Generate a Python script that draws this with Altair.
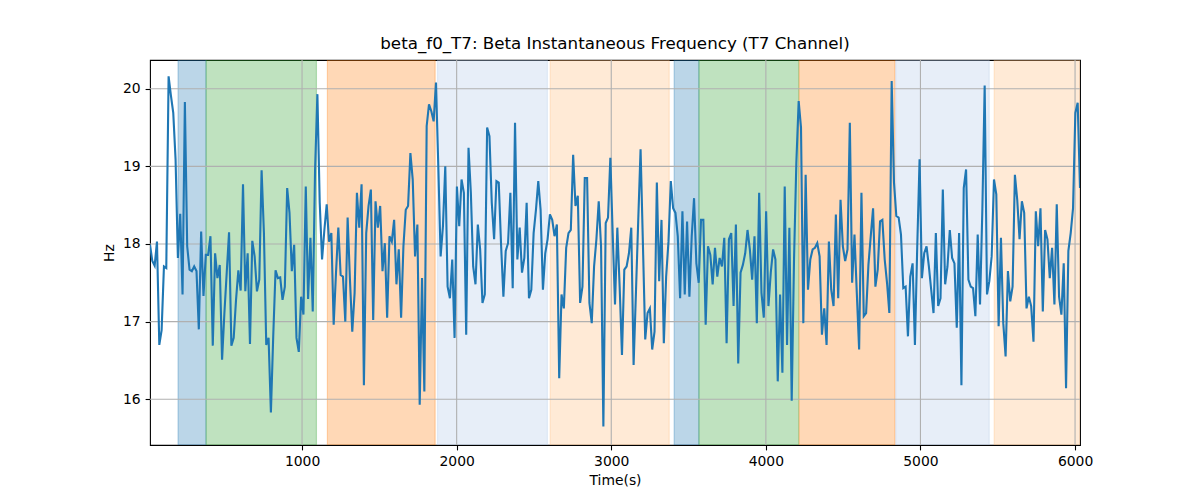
import altair as alt
import numpy as np
import pandas as pd

# ---- signal values (Hz), in time order ----
seg1 = [17.99, 17.78, 17.72, 18.03, 16.70, 16.89, 17.71, 17.69, 20.16, 19.91,
        19.69, 19.09, 17.82, 18.39, 17.35, 19.83, 17.97, 17.67, 17.65, 17.71,
        17.65, 16.90, 18.16, 17.33, 17.86, 17.86, 18.10, 16.69, 17.88, 17.56,
        17.73, 16.51, 17.11, 17.63, 18.15, 16.69, 16.79, 17.28, 17.66, 17.40,
        18.77, 17.39, 17.88, 16.71, 18.04, 17.84, 17.39, 17.54, 18.95, 18.14,
        16.70, 16.79, 15.83, 16.81, 17.66, 17.56, 17.57, 17.28, 17.45, 18.72,
        18.40, 17.65, 17.99, 16.79, 16.61, 17.32, 17.09, 18.74, 17.29, 18.08]
seg2 = [17.13, 18.96, 19.93, 18.53, 17.80, 18.18, 18.51, 18.03, 18.14, 16.96,
        17.63, 18.21, 17.60, 17.58, 17.00, 18.34, 17.54, 16.87, 17.37, 18.66,
        18.21, 18.77, 16.18, 18.14, 18.49, 18.70, 17.02, 18.55, 18.21, 18.49,
        17.65, 18.01, 17.05, 18.10, 18.03, 18.31, 17.48, 17.93, 17.05, 17.97,
        18.44, 18.49, 19.17, 18.83, 17.84, 18.25, 15.93, 17.56, 16.10, 19.52,
        19.80, 19.71, 19.58, 20.08, 19.00, 17.84, 18.23, 19.00, 17.45, 17.30,
        17.80, 16.79, 18.74, 18.23]
seg3 = [18.83, 18.66, 16.83, 19.24, 18.66, 17.71, 17.48, 18.25, 17.93, 17.24,
        17.35, 19.50, 19.39, 18.53, 18.06, 18.81, 18.79, 17.99, 17.32, 17.91,
        18.01, 18.66, 17.43, 19.56, 17.80, 18.21, 17.63, 17.82, 18.53, 17.30,
        17.41, 18.14, 18.44, 18.81, 18.44, 17.41, 17.88, 18.06, 18.38, 18.31,
        18.10, 18.25, 16.27, 17.35, 17.17, 17.95, 18.14, 18.18, 19.15, 18.49,
        18.62, 17.24, 17.45, 18.85, 18.85, 17.24, 16.98, 17.71, 18.06, 18.55,
        17.97, 15.65, 18.27, 18.34]
seg4 = [19.11, 18.14, 17.22, 18.21, 17.45, 16.57, 17.67, 17.71, 17.88, 18.21,
        16.44, 17.37, 18.31, 19.22, 18.01, 16.77, 17.11, 17.17, 16.64, 16.87,
        18.79, 17.52, 18.31, 16.72, 17.58, 18.03, 18.81, 18.46, 18.40, 18.10,
        17.30, 18.42, 17.35, 18.29, 17.32, 18.10, 18.59, 17.75, 17.50, 18.31,
        18.31, 16.96, 17.97, 17.86, 17.48, 17.95, 17.58, 17.82, 17.71, 18.08,
        16.72, 18.06, 18.14, 17.20, 18.25, 16.46, 17.63, 17.73, 17.88, 18.18,
        17.93, 17.54, 18.10, 16.98, 18.66]
seg5 = [17.37, 17.05, 18.42, 17.20, 17.63, 17.93, 17.80, 16.23, 17.35, 16.34,
        18.74, 16.70, 18.21, 15.98, 17.80, 19.05, 19.84, 19.50, 16.98, 18.89,
        17.41, 17.80, 17.93, 17.95, 18.01, 17.84, 16.83, 17.17, 16.70, 18.03,
        17.41, 17.20, 18.38, 17.30, 18.57, 17.97, 17.78, 17.93, 19.56, 17.50,
        18.12, 17.37, 16.64, 18.66, 17.07, 17.11, 17.73, 18.10, 18.46, 17.45,
        17.67, 18.29, 18.31, 17.80, 17.50, 17.11, 20.10, 18.79, 18.36, 18.34,
        18.12, 17.43, 17.45, 16.81]
seg6 = [17.58, 17.75, 16.70, 17.97, 19.09, 17.56, 17.88, 17.97, 17.71, 17.41,
        17.11, 18.14, 17.20, 17.30, 18.70, 17.48, 17.71, 18.18, 17.82, 17.75,
        16.92, 18.14, 16.18, 18.72, 18.96, 17.54, 17.45, 17.43, 17.07, 18.12,
        17.22, 18.44, 20.04, 17.35, 17.52, 17.84, 18.83, 18.64, 16.94, 18.08,
        16.98, 16.55, 17.65, 17.26, 17.45, 18.89, 18.57, 18.06, 18.55, 18.40,
        17.17, 17.32, 17.20, 16.74, 18.42, 17.97, 18.46, 17.13, 18.18, 18.06,
        17.56, 17.95, 17.22, 18.51, 17.32, 17.09, 17.75, 16.14, 17.91, 18.14,
        18.46, 19.69, 19.82, 18.72]

freq = seg1 + seg2 + seg3 + seg4 + seg5 + seg6
t_first, t_last = 16.5, 6032.0
time = np.linspace(t_first, t_last, len(freq))

# ---- shaded phases ----
span_start = [198, 379, 1164, 1876, 2605, 3407, 3567, 4215, 4840, 5477]
span_end = [379, 1093, 1861, 2587, 3375, 3567, 4212, 4835, 5445, 6032]
span_color = ["#1f77b4", "#2ca02c", "#ff7f0e", "#aec7e8", "#ffbb78",
              "#1f77b4", "#2ca02c", "#ff7f0e", "#aec7e8", "#ffbb78"]

x_ticks = [1000, 2000, 3000, 4000, 5000, 6000]
y_ticks = [16, 17, 18, 19, 20]
y_lo, y_hi = 15.41, 20.37

df = pd.DataFrame({"t": time, "hz": freq})
spans = pd.DataFrame({"s": span_start, "e": span_end, "c": span_color})
xg = pd.DataFrame({"v": x_ticks})
yg = pd.DataFrame({"v": y_ticks})

FONT = "DejaVu Sans"
xscale = alt.Scale(domain=[t_first, t_last], nice=False, zero=False)
yscale = alt.Scale(domain=[y_lo, y_hi], nice=False, zero=False)

xaxis = alt.Axis(values=x_ticks, format="d", title="Time(s)", grid=False,
                 domain=False, tickColor="black", tickSize=4.9, tickWidth=1.1,
                 labelPadding=4.9, labelFontSize=13.9, labelColor="black",
                 labelFont=FONT, titleFont=FONT, titleFontSize=13.9,
                 titleFontWeight="normal", titleColor="black", titlePadding=5)
yaxis = alt.Axis(values=y_ticks, format="d", title="Hz", grid=False,
                 domain=False, tickColor="black", tickSize=4.9, tickWidth=1.1,
                 labelPadding=4.9, labelFontSize=13.9, labelColor="black",
                 labelFont=FONT, titleFont=FONT, titleFontSize=13.9,
                 titleFontWeight="normal", titleColor="black", titlePadding=6)

rects = alt.Chart(spans).mark_rect(fillOpacity=0.3, strokeOpacity=0.3,
                                   strokeWidth=1.2, clip=True).encode(
    x=alt.X("s:Q", scale=xscale, axis=xaxis),
    x2="e:Q",
    color=alt.Color("c:N", scale=None),
    stroke=alt.Stroke("c:N", scale=None),
)

vgrid = alt.Chart(xg).mark_rule(color="#b0b0b0", strokeWidth=1.1).encode(
    x=alt.X("v:Q", scale=xscale, axis=xaxis))
hgrid = alt.Chart(yg).mark_rule(color="#b0b0b0", strokeWidth=1.1).encode(
    y=alt.Y("v:Q", scale=yscale, axis=yaxis))

line = alt.Chart(df).mark_line(color="#1f77b4", strokeWidth=2.1, clip=True).encode(
    x=alt.X("t:Q", scale=xscale, axis=xaxis),
    y=alt.Y("hz:Q", scale=yscale, axis=yaxis),
)

chart = alt.layer(rects, vgrid, hgrid, line).properties(
    width=930, height=385,
    title=alt.TitleParams("beta_f0_T7: Beta Instantaneous Frequency (T7 Channel)",
                          font=FONT, fontSize=16.7, fontWeight="normal",
                          color="black", anchor="middle", offset=7),
    autosize=alt.AutoSizeParams(type="none"),
    padding={"left": 142, "top": 52, "right": 100, "bottom": 52},
).configure_view(stroke="black", strokeWidth=1.1)

chart.save("out.html", embed_options={"renderer": "svg", "actions": False})
